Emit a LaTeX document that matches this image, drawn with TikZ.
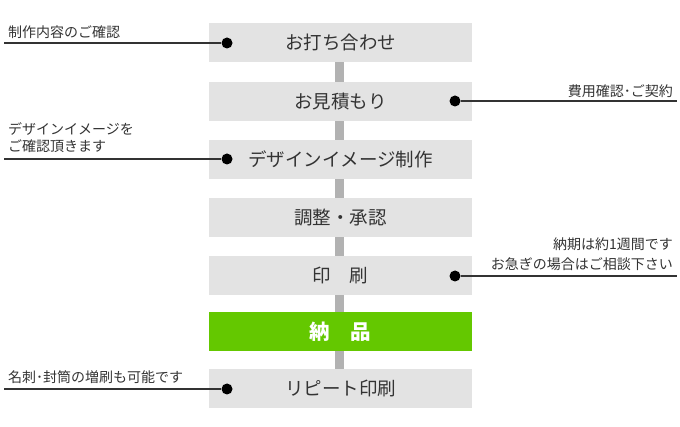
\documentclass[tikz,border=0pt]{standalone}
\usepackage{fontspec}
\setmainfont{Noto Sans CJK JP}
\usetikzlibrary{positioning}
\definecolor{boxgray}{HTML}{E3E3E3}
\definecolor{bargray}{HTML}{B2B2B2}
\definecolor{okgreen}{HTML}{64C800}
\definecolor{inkgray}{HTML}{333333}

\begin{document}
\begin{tikzpicture}[x=1pt, y=-1pt,
  stepbox/.style={fill=boxgray, minimum width=263pt, minimum height=39pt, inner sep=0pt,
    text=inkgray, font=\fontsize{18.5}{18.5}\selectfont},
  bar/.style={line width=9pt, bargray},
  dot/.style={circle, fill=black, minimum size=11pt, inner sep=0pt},
  lead/.style={line width=1.2pt, inkgray},
  note/.style={inner sep=0pt, text=inkgray, font=\fontsize{14}{17}\selectfont}]
\useasboundingbox (0,0) rectangle (680,427);

% flow boxes
\node[stepbox] (s1) at (340.5,42.5) {お打ち合わせ};
\node[stepbox] (s2) at (340.5,101.5) {お見積もり};
\node[stepbox] (s3) at (340.5,159.5) {デザインイメージ制作};
\node[stepbox] (s4) at (340.5,217.5) {調整・承認};
\node[stepbox] (s5) at (340.5,275.5) {印　刷};
\node[stepbox, fill=okgreen, text=white, font=\fontsize{20.5}{20.5}\selectfont\bfseries] (s6) at (340.5,331.5) {納　品};
\node[stepbox] (s7) at (340.5,388.5) {リピート印刷};

\foreach \a/\b in {s1/s2,s2/s3,s3/s4,s4/s5,s5/s6,s6/s7}
  \draw[bar] ([xshift=-1pt]\a.south) -- ([xshift=-1pt]\b.north);

% side notes
\node[dot] (d1) at (227,43) {};
\coordinate (e1) at (4,43);
\draw[lead] (e1) -- (d1);
\node[note, anchor=west] (n1) at (8,32) {制作内容のご確認};

\node[dot] (d2) at (455,101) {};
\coordinate (e2) at (677,101);
\draw[lead] (d2) -- (e2);
\node[note, anchor=east] (n2) at (673,91) {費用確認･ご契約};

\node[dot] (d3) at (227,159) {};
\coordinate (e3) at (4,159);
\draw[lead] (e3) -- (d3);
\node[note, anchor=west, align=left, font=\fontsize{14}{17}\selectfont] (n3) at (8,137.5) {デザインイメージを\\ご確認頂きます};

\node[dot] (d5) at (455,276) {};
\coordinate (e5) at (677,276);
\draw[lead] (d5) -- (e5);
\node[note, anchor=east, align=right, font=\fontsize{14}{20}\selectfont] (n5) at (673,254.5) {納期は約1週間です\\お急ぎの場合はご相談下さい};

\node[dot] (d7) at (227,389) {};
\coordinate (e7) at (4,389);
\draw[lead] (e7) -- (d7);
\node[note, anchor=west] (n7) at (8,377) {名刺･封筒の増刷も可能です};
\end{tikzpicture}
\end{document}
